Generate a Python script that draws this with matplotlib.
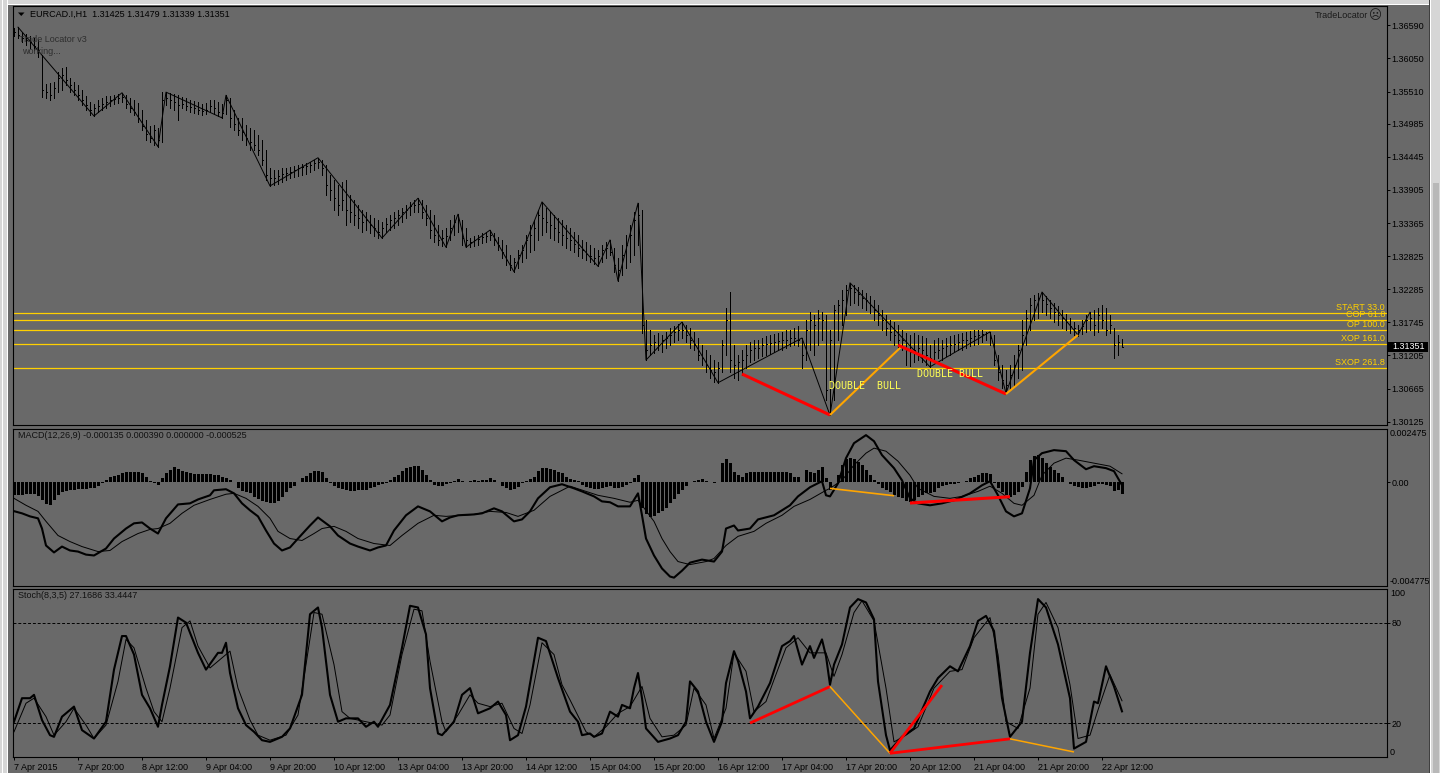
import numpy as np
import matplotlib
matplotlib.use("Agg")
import matplotlib.pyplot as plt
from matplotlib.collections import LineCollection
from matplotlib.patches import Rectangle, Polygon
import matplotlib.transforms as mtrans
from matplotlib.ticker import FormatStrFormatter

plt.rcParams['font.family'] = ['Liberation Sans', 'DejaVu Sans']

# ---------------- data: EURCAD.I H1 bars ----------------
bar_high = [
 1.3655,1.3656,1.3648,1.3645,1.3642,1.3638,1.3635,1.3611,1.3563,1.3565,
 1.3567,1.3583,1.3589,1.3591,1.3573,1.3567,1.3562,1.3554,1.3544,1.3534,
 1.3531,1.3537,1.3540,1.3544,1.3544,1.3545,1.3547,1.3549,1.3545,1.3540,
 1.3537,1.3532,1.3521,1.3505,1.3495,1.3496,1.3492,1.3550,1.3550,1.3549,
 1.3547,1.3545,1.3542,1.3540,1.3537,1.3536,1.3534,1.3531,1.3532,1.3537,
 1.3537,1.3534,1.3531,1.3545,1.3540,1.3521,1.3508,1.3508,1.3496,1.3492,
 1.3488,1.3480,1.3472,1.3456,1.3426,1.3423,1.3423,1.3426,1.3426,1.3428,
 1.3430,1.3431,1.3433,1.3434,1.3436,1.3439,1.3443,1.3439,1.3431,1.3415,
 1.3407,1.3399,1.3404,1.3407,1.3382,1.3374,1.3366,1.3358,1.3355,1.3350,
 1.3345,1.3342,1.3338,1.3345,1.3350,1.3355,1.3358,1.3361,1.3366,1.3371,
 1.3374,1.3377,1.3374,1.3366,1.3358,1.3350,1.3333,1.3325,1.3328,1.3342,
 1.3350,1.3351,1.3342,1.3328,1.3312,1.3315,1.3317,1.3320,1.3322,1.3325,
 1.3320,1.3314,1.3309,1.3301,1.3284,1.3280,1.3293,1.3301,1.3317,1.3333,
 1.3342,1.3358,1.3371,1.3361,1.3355,1.3350,1.3345,1.3342,1.3333,1.3328,
 1.3322,1.3317,1.3309,1.3306,1.3301,1.3296,1.3293,1.3301,1.3306,1.3309,
 1.3296,1.3280,1.3301,1.3317,1.3333,1.3355,1.3369,1.3358,1.3178,1.3162,
 1.3154,1.3157,1.3154,1.3159,1.3165,1.3169,1.3172,1.3175,1.3170,1.3165,
 1.3159,1.3149,1.3138,1.3129,1.3121,1.3113,1.3110,1.3146,1.3198,1.3224,
 1.3138,1.3121,1.3129,1.3138,1.3143,1.3146,1.3146,1.3149,1.3152,1.3154,
 1.3156,1.3157,1.3159,1.3162,1.3162,1.3165,1.3169,1.3149,1.3178,1.3191,
 1.3187,1.3195,1.3191,1.3187,1.3162,1.3203,1.3211,1.3227,1.3235,1.3239,
 1.3235,1.3232,1.3227,1.3222,1.3218,1.3211,1.3203,1.3195,1.3187,1.3178,
 1.3175,1.3170,1.3162,1.3157,1.3154,1.3157,1.3154,1.3152,1.3149,1.3138,
 1.3146,1.3149,1.3146,1.3149,1.3152,1.3154,1.3156,1.3157,1.3159,1.3160,
 1.3162,1.3162,1.3162,1.3159,1.3159,1.3154,1.3121,1.3105,1.3097,1.3105,
 1.3121,1.3138,1.3178,1.3195,1.3214,1.3219,1.3222,1.3224,1.3218,1.3211,
 1.3206,1.3201,1.3195,1.3188,1.3182,1.3175,1.3170,1.3178,1.3187,1.3191,
 1.3195,1.3198,1.3203,1.3198,1.3187,1.3165,1.3154,1.31479]

bar_low = [
 1.3642,1.3638,1.3632,1.3627,1.3622,1.3619,1.3607,1.3542,1.3540,1.3537,
 1.3540,1.3550,1.3554,1.3562,1.3550,1.3545,1.3537,1.3529,1.3521,1.3513,
 1.3511,1.3518,1.3521,1.3524,1.3527,1.3531,1.3532,1.3534,1.3524,1.3518,
 1.3513,1.3501,1.3488,1.3472,1.3469,1.3464,1.3461,1.3469,1.3529,1.3524,
 1.3521,1.3505,1.3524,1.3521,1.3518,1.3516,1.3514,1.3513,1.3514,1.3518,
 1.3514,1.3511,1.3508,1.3514,1.3493,1.3488,1.3480,1.3472,1.3464,1.3456,
 1.3456,1.3447,1.3431,1.3407,1.3397,1.3399,1.3400,1.3404,1.3407,1.3410,
 1.3412,1.3413,1.3415,1.3416,1.3420,1.3423,1.3426,1.3415,1.3382,1.3374,
 1.3358,1.3350,1.3358,1.3333,1.3338,1.3333,1.3328,1.3322,1.3325,1.3320,
 1.3315,1.3312,1.3312,1.3322,1.3325,1.3328,1.3333,1.3338,1.3345,1.3350,
 1.3355,1.3355,1.3345,1.3333,1.3312,1.3306,1.3301,1.3299,1.3297,1.3309,
 1.3317,1.3322,1.3301,1.3297,1.3297,1.3299,1.3301,1.3304,1.3306,1.3309,
 1.3301,1.3293,1.3280,1.3268,1.3260,1.3257,1.3263,1.3273,1.3280,1.3289,
 1.3293,1.3309,1.3317,1.3322,1.3312,1.3309,1.3306,1.3301,1.3296,1.3293,
 1.3289,1.3283,1.3280,1.3276,1.3273,1.3270,1.3266,1.3273,1.3280,1.3284,
 1.3257,1.3242,1.3252,1.3263,1.3273,1.3284,1.3301,1.3157,1.3113,1.3121,
 1.3125,1.3129,1.3126,1.3133,1.3138,1.3143,1.3146,1.3149,1.3143,1.3133,
 1.3129,1.3113,1.3105,1.3094,1.3084,1.3077,1.3076,1.3094,1.3121,1.3094,
 1.3084,1.3081,1.3089,1.3100,1.3110,1.3113,1.3116,1.3120,1.3121,1.3123,
 1.3126,1.3129,1.3129,1.3133,1.3136,1.3138,1.3136,1.3100,1.3113,1.3129,
 1.3121,1.3138,1.3146,1.3048,1.3023,1.3048,1.3146,1.3170,1.3187,1.3203,
 1.3206,1.3203,1.3198,1.3195,1.3190,1.3178,1.3170,1.3162,1.3154,1.3146,
 1.3138,1.3133,1.3129,1.3105,1.3103,1.3110,1.3113,1.3110,1.3105,1.3102,
 1.3110,1.3116,1.3113,1.3120,1.3121,1.3126,1.3129,1.3129,1.3133,1.3136,
 1.3138,1.3139,1.3143,1.3146,1.3138,1.3105,1.3081,1.3068,1.3059,1.3064,
 1.3072,1.3084,1.3097,1.3138,1.3162,1.3178,1.3182,1.3191,1.3187,1.3182,
 1.3175,1.3170,1.3165,1.3162,1.3157,1.3154,1.3152,1.3156,1.3159,1.3162,
 1.3154,1.3159,1.3165,1.3154,1.3157,1.3116,1.3121,1.31339]

bar_close = [
 1.3648,1.3643,1.3638,1.3635,1.3632,1.3625,1.3619,1.3554,1.3550,1.3545,
 1.3557,1.3573,1.3578,1.3570,1.3562,1.3554,1.3545,1.3537,1.3529,1.3521,
 1.3524,1.3527,1.3531,1.3534,1.3537,1.3539,1.3540,1.3542,1.3531,1.3524,
 1.3518,1.3508,1.3495,1.3482,1.3475,1.3488,1.3472,1.3537,1.3540,1.3537,
 1.3534,1.3529,1.3531,1.3527,1.3526,1.3524,1.3521,1.3519,1.3521,1.3527,
 1.3524,1.3518,1.3516,1.3537,1.3508,1.3498,1.3488,1.3485,1.3475,1.3469,
 1.3464,1.3456,1.3439,1.3415,1.3410,1.3410,1.3413,1.3416,1.3418,1.3420,
 1.3423,1.3426,1.3428,1.3430,1.3431,1.3434,1.3436,1.3426,1.3399,1.3390,
 1.3377,1.3366,1.3374,1.3358,1.3355,1.3350,1.3345,1.3338,1.3342,1.3333,
 1.3328,1.3322,1.3328,1.3335,1.3342,1.3345,1.3350,1.3355,1.3358,1.3364,
 1.3366,1.3368,1.3355,1.3345,1.3325,1.3317,1.3309,1.3312,1.3315,1.3328,
 1.3338,1.3342,1.3312,1.3309,1.3306,1.3309,1.3311,1.3314,1.3315,1.3317,
 1.3309,1.3301,1.3289,1.3276,1.3268,1.3273,1.3284,1.3293,1.3309,1.3317,
 1.3328,1.3350,1.3345,1.3338,1.3333,1.3328,1.3322,1.3317,1.3312,1.3309,
 1.3302,1.3296,1.3293,1.3286,1.3283,1.3280,1.3283,1.3293,1.3296,1.3289,
 1.3268,1.3260,1.3284,1.3301,1.3317,1.3342,1.3350,1.3170,1.3129,1.3138,
 1.3143,1.3138,1.3146,1.3149,1.3154,1.3159,1.3162,1.3162,1.3154,1.3146,
 1.3138,1.3121,1.3116,1.3105,1.3097,1.3094,1.3100,1.3138,1.3178,1.3113,
 1.3105,1.3110,1.3113,1.3121,1.3129,1.3133,1.3133,1.3138,1.3139,1.3141,
 1.3143,1.3144,1.3146,1.3146,1.3149,1.3149,1.3146,1.3121,1.3162,1.3178,
 1.3170,1.3182,1.3178,1.3064,1.3146,1.3195,1.3203,1.3211,1.3227,1.3231,
 1.3224,1.3221,1.3214,1.3211,1.3203,1.3195,1.3187,1.3178,1.3165,1.3159,
 1.3154,1.3146,1.3146,1.3129,1.3126,1.3129,1.3133,1.3129,1.3121,1.3116,
 1.3126,1.3129,1.3133,1.3136,1.3138,1.3139,1.3143,1.3146,1.3146,1.3149,
 1.3152,1.3154,1.3156,1.3157,1.3149,1.3113,1.3094,1.3081,1.3072,1.3089,
 1.3105,1.3129,1.3154,1.3182,1.3203,1.3211,1.3214,1.3211,1.3205,1.3198,
 1.3191,1.3187,1.3182,1.3175,1.3169,1.3165,1.3162,1.3169,1.3178,1.3182,
 1.3170,1.3187,1.3178,1.3162,1.3170,1.3138,1.3143,1.31351]

zigzag_idx = [1, 20, 27, 36, 38, 52, 53, 64, 76, 92, 101, 108, 111, 113, 119, 125,
              132, 146, 149, 151, 156, 158, 167, 176, 197, 204, 209, 229, 244, 248,
              257, 266, 269]
zigzag_price = [1.3656, 1.3511, 1.3549, 1.3461, 1.3550, 1.3508, 1.3545, 1.3397,
                1.3443, 1.3312, 1.3377, 1.3297, 1.3351, 1.3297, 1.3325, 1.3257,
                1.3371, 1.3266, 1.3309, 1.3242, 1.3369, 1.3113, 1.3175, 1.3076,
                1.3149, 1.3023, 1.3239, 1.3102, 1.3159, 1.3059, 1.3224, 1.3154,
                1.3191]

level_price = [1.31893, 1.31779, 1.31615, 1.31387, 1.30996]
level_label = ['START 33.0', 'COP 61.8', 'OP 100.0', 'XOP 161.0', 'SXOP 261.8']

price_ticks = [1.36590, 1.36050, 1.35510, 1.34985, 1.34445, 1.33905, 1.33365,
               1.32825, 1.32285, 1.31745, 1.31205, 1.30665, 1.30125]

# harmonic pattern legs: (start bar, start value, end bar, end value, kind)
main_legs = [(182, 1.30903, 204, 1.30234, 'red'),
             (204, 1.30234, 222, 1.31359, 'orange'),
             (221, 1.31375, 248, 1.30577, 'red'),
             (248, 1.30577, 266, 1.31539, 'orange')]
bull_idx = [203.75, 225.75]
bull_price = [1.30707, 1.30903]
bull_text = ['DOUBLE  BULL', 'DOUBLE BULL']

macd_legs = [(204, -0.000282, 220, -0.000619, 'orange'),
             (224, -0.000956, 249, -0.000665, 'red')]
stoch_legs = [(184, 20.2, 204, 41.9, 'red'),
              (204, 41.9, 219, 2.2, 'orange'),
              (219, 2.2, 232, 42.8, 'red'),
              (219, 2.2, 249, 10.8, 'red'),
              (249, 10.8, 265, 3.0, 'orange')]

# ---------------- MACD(12,26,9) ----------------
macd_hist = [
 -0.00058,-0.00058,-0.00057,-0.00056,-0.00055,-0.00056,-0.00062,-0.00082,-0.00102,-0.00105,
 -0.00082,-0.00058,-0.00043,-0.00040,-0.00037,-0.00034,-0.00032,-0.00031,-0.00029,-0.00028,
 -0.00025,-0.00015,-0.00005,0.00011,0.00022,0.00029,0.00034,0.00043,0.00049,0.00049,
 0.00046,0.00046,0.00042,0.00026,0.00006,-0.00005,-0.00012,0.00018,0.00042,0.00057,
 0.00068,0.00062,0.00052,0.00045,0.00042,0.00040,0.00040,0.00039,0.00039,0.00037,
 0.00034,0.00034,0.00026,0.00018,0.00011,0.0,-0.00025,-0.00040,-0.00046,-0.00051,
 -0.00066,-0.00077,-0.00086,-0.00092,-0.00095,-0.00095,-0.00086,-0.00066,-0.00046,-0.00028,
 -0.00015,0.00003,0.00018,0.00031,0.00042,0.00052,0.00054,0.00049,0.00018,-0.00005,
 -0.00015,-0.00025,-0.00031,-0.00035,-0.00040,-0.00040,-0.00037,-0.00037,-0.00034,-0.00028,
 -0.00020,-0.00012,-0.00008,-0.00005,0.00011,0.00022,0.00034,0.00052,0.00065,0.00072,
 0.00077,0.00075,0.00057,0.00034,0.00011,-0.00012,-0.00018,-0.00015,-0.00009,-0.00002,
 0.00006,0.00014,0.00006,0.00003,0.00008,0.00009,0.00008,0.00011,0.00011,0.00018,
 0.00011,0.00003,-0.00015,-0.00028,-0.00035,-0.00032,-0.00020,-0.00005,0.00006,0.00015,
 0.00026,0.00052,0.00065,0.00065,0.00062,0.00057,0.00049,0.00042,0.00026,0.00015,
 0.00011,0.00008,-0.00012,-0.00020,-0.00028,-0.00031,-0.00032,-0.00025,-0.00020,-0.00015,
 -0.00025,-0.00028,-0.00020,-0.00012,-0.00005,0.00018,0.00034,-0.00120,-0.00148,-0.00159,
 -0.00154,-0.00143,-0.00132,-0.00117,-0.00097,-0.00077,-0.00055,-0.00035,-0.00015,0.0,
 0.00006,0.00011,0.00014,0.00006,0.0,-0.00005,0.00003,0.00088,0.00108,0.00088,
 0.00049,0.00034,0.00026,0.00042,0.00049,0.00046,0.00049,0.00049,0.00049,0.00049,
 0.00049,0.00049,0.00049,0.00046,0.00042,0.00026,0.00026,0.00003,0.00057,0.00049,
 0.00042,0.00057,0.00068,0.00018,-0.00035,0.00003,0.00034,0.00080,0.00108,0.00114,
 0.00108,0.00095,0.00080,0.00057,0.00034,0.00011,-0.00009,-0.00025,-0.00035,-0.00046,
 -0.00058,-0.00066,-0.00074,-0.00086,-0.00092,-0.00082,-0.00066,-0.00058,-0.00051,-0.00051,
 -0.00043,-0.00028,-0.00015,-0.00012,-0.00009,-0.00008,-0.00005,0.0,0.00006,0.00018,
 0.00026,0.00034,0.00042,0.00042,0.00037,-0.00005,-0.00028,-0.00046,-0.00058,-0.00066,
 -0.00058,-0.00043,-0.00020,0.00049,0.00103,0.00123,0.00126,0.00111,0.00088,0.00072,
 0.00057,0.00042,0.00022,0.00003,-0.00009,-0.00015,-0.00020,-0.00025,-0.00028,-0.00020,
 -0.00015,-0.00009,-0.00009,-0.00012,-0.00015,-0.00040,-0.00035,-0.000525]

macd_idx = [0,2,4,6,7,8,10,12,14,16,18,20,23,25,28,30,32,34,36,38,41,44,46,49,50,53,55,57,59,61,
            63,65,67,69,71,74,76,79,81,84,86,89,91,93,95,98,101,104,107,109,111,115,117,120,122,
            125,127,129,131,134,137,140,142,145,147,149,151,154,156,157,158,160,162,164,165,167,
            169,172,175,177,178,180,181,184,186,190,194,196,199,202,203,204,206,208,210,213,215,
            217,220,222,224,226,229,232,235,239,242,244,246,248,250,252,254,255,257,260,263,265,
            268,270,273,275,277]
macd_main = [-0.00133,-0.00143,-0.00157,-0.00166,-0.00213,-0.00291,-0.00323,-0.00296,-0.00314,-0.00319,
             -0.00333,-0.00337,-0.00305,-0.00259,-0.00213,-0.00189,-0.00185,-0.00213,-0.00236,-0.00166,
             -0.00102,-0.00097,-0.00079,-0.00060,-0.00037,-0.00032,-0.00051,-0.00097,-0.00129,-0.00157,
             -0.00222,-0.00282,-0.00314,-0.00300,-0.00259,-0.00199,-0.00162,-0.00203,-0.00245,-0.00282,
             -0.00296,-0.00314,-0.00300,-0.00291,-0.00222,-0.00152,-0.00111,-0.00134,-0.00180,-0.00162,
             -0.00152,-0.00148,-0.00143,-0.00120,-0.00134,-0.00180,-0.00171,-0.00134,-0.00074,-0.00023,
             -0.00009,-0.00028,-0.00042,-0.00065,-0.00088,-0.00092,-0.00111,-0.00111,-0.00051,-0.00152,
             -0.00259,-0.00337,-0.00397,-0.00434,-0.00439,-0.00407,-0.00370,-0.00356,-0.00365,-0.00319,
             -0.00213,-0.00199,-0.00222,-0.00213,-0.00171,-0.00152,-0.00106,-0.00065,-0.00023,0.00005,
             -0.00060,-0.00065,-0.00005,0.00111,0.00180,0.00217,0.00189,0.00125,0.00065,0.00009,
             -0.00074,-0.00097,-0.00106,-0.00097,-0.00083,-0.00051,-0.00014,0.00005,-0.00060,-0.00134,
             -0.00157,-0.00143,-0.00028,0.00102,0.00134,0.00148,0.00143,0.00102,0.00060,0.00074,
             0.00065,0.00051,-0.000135]

signal_idx = [0,3,6,8,11,14,17,21,24,27,31,34,36,39,42,45,49,53,55,58,61,64,66,69,72,75,77,80,83,86,
              90,94,97,101,105,108,112,115,119,123,126,130,134,137,139,143,146,150,154,156,157,160,
              162,164,166,169,173,175,178,181,185,188,192,195,199,203,204,207,210,213,215,218,221,
              224,226,230,234,237,241,244,247,250,252,255,257,260,263,266,270,274,277]
macd_signal = [-0.00074,-0.00106,-0.00134,-0.00180,-0.00245,-0.00273,-0.00296,-0.00319,-0.00314,-0.00273,
               -0.00236,-0.00217,-0.00213,-0.00189,-0.00143,-0.00106,-0.00079,-0.00055,-0.00051,-0.00074,
               -0.00111,-0.00166,-0.00226,-0.00259,-0.00268,-0.00236,-0.00213,-0.00203,-0.00226,-0.00259,
               -0.00282,-0.00291,-0.00245,-0.00189,-0.00152,-0.00157,-0.00152,-0.00148,-0.00134,-0.00139,
               -0.00157,-0.00129,-0.00065,-0.00037,-0.00018,-0.00042,-0.00060,-0.00074,-0.00092,-0.00083,
               -0.00106,-0.00180,-0.00259,-0.00319,-0.00365,-0.00379,-0.00365,-0.00351,-0.00291,-0.00249,
               -0.00226,-0.00189,-0.00152,-0.00111,-0.00079,-0.00037,-0.00028,0.00009,0.00079,0.00134,
               0.00157,0.00143,0.00097,0.00032,-0.00028,-0.00065,-0.00074,-0.00065,-0.00042,-0.00018,
               -0.00051,-0.00097,-0.00106,-0.00060,0.00032,0.00088,0.00111,0.00102,0.00088,0.00074,
               0.00039]

# ---------------- Stoch(8,3,5) ----------------
stoch_k_idx = [0,2,4,5,7,9,10,12,15,17,20,23,25,27,28,30,32,34,36,37,39,41,43,46,48,51,52,53,54,56,
               58,60,62,64,67,69,72,74,76,77,79,81,83,86,88,90,91,94,97,99,101,103,104,106,107,110,
               112,114,116,119,121,123,124,126,128,131,133,136,139,141,142,144,145,147,149,151,152,
               154,155,156,157,158,161,164,166,168,169,171,173,175,177,178,180,181,183,184,186,189,
               192,194,195,197,199,200,202,203,204,205,207,209,211,213,215,216,218,219,222,225,229,
               231,234,236,239,241,243,245,247,249,252,254,256,258,261,264,265,268,270,271,273,275,277]
stoch_k = [21,35,35,37,22,13,12,24,30,16,11,21,52,72,72,61,37,29,18,31,
           54,83,80,62,52,62,62,68,50,29,19,15,10,9,12,17,37,85,89,77,
           37,21,23,23,18,21,18,31,65,90,89,73,41,14,13,21,37,41,26,29,
           33,25,10,13,30,71,69,47,27,21,13,14,12,14,27,24,31,29,41,50,
           35,17,9,11,13,21,45,39,21,9,21,44,63,57,39,23,30,44,66,69,
           72,55,66,59,70,60,43,55,67,89,94,92,82,45,13,4,12,17,39,47,
           54,51,66,81,84,75,35,12,21,62,94,89,67,35,5,9,33,32,54,42,27.1686]

stoch_d_idx = [0,3,5,8,10,13,15,18,20,23,26,28,30,33,35,37,39,42,44,46,49,52,54,56,59,61,64,68,71,73,
               75,77,80,82,84,88,92,94,97,100,102,104,107,108,111,114,116,119,122,125,127,129,132,
               135,137,139,143,145,148,151,154,157,159,162,165,168,170,173,175,178,180,183,185,188,
               190,193,196,199,203,205,207,210,212,215,218,220,223,226,230,234,237,240,244,246,248,
               251,254,256,258,261,264,266,269,271,274,277]
stoch_d = [15,32,35,24,13,21,29,19,11,19,45,70,65,41,27,21,41,77,81,66,
           53,59,63,41,22,13,10,13,25,55,86,85,55,27,23,21,19,25,61,88,
           87,57,21,15,25,37,32,30,32,17,14,31,68,61,43,34,15,12,18,26,
           30,42,23,12,13,19,41,31,11,29,62,51,27,33,46,65,71,62,62,48,
           61,86,93,81,41,9,13,18,41,51,52,71,83,61,21,17,41,85,92,77,
           43,11,13,28,49,33.4447]

time_tick_idx = [0, 16, 32, 48, 64, 80, 96, 112, 128, 144, 160, 176, 192, 208, 224, 240, 256, 272]
time_tick_label = ['7 Apr 2015', '7 Apr 20:00', '8 Apr 12:00', '9 Apr 04:00', '9 Apr 20:00',
                   '10 Apr 12:00', '13 Apr 04:00', '13 Apr 20:00', '14 Apr 12:00', '15 Apr 04:00',
                   '15 Apr 20:00', '16 Apr 12:00', '17 Apr 04:00', '17 Apr 20:00', '20 Apr 12:00',
                   '21 Apr 04:00', '21 Apr 20:00', '22 Apr 12:00']

header_ohlc = [1.31425, 1.31479, 1.31339, 1.31351]

# ---------------- styling ----------------
W, H = 1440, 773
BG = '#696969'
FS = 6.5
GOLD = '#FFD000'
LEG_COLORS = {'red': '#FF0000', 'orange': '#FFA500'}

fig = plt.figure(figsize=(W / 100, H / 100), dpi=100)
fig.patch.set_facecolor(BG)


def add_ax(left, top, right, bottom):
    return fig.add_axes([left / W, 1 - bottom / H, (right - left) / W, (bottom - top) / H])


AX_L, AX_R = 12.5, 1386.5
AXW = AX_R - AX_L
ax_main = add_ax(AX_L, 6, AX_R, 425)
ax_macd = add_ax(AX_L, 428.5, AX_R, 586)
ax_sto = add_ax(AX_L, 589, AX_R, 757)

xlim = ((AX_L - 14) / 4.0, (AX_R - 14) / 4.0)
for ax in (ax_main, ax_macd, ax_sto):
    ax.set_facecolor(BG)
    ax.set_xlim(*xlim)
    for sp in ax.spines.values():
        sp.set_color('black')
        sp.set_linewidth(0.8)
    ax.yaxis.tick_right()
    ax.tick_params(axis='y', direction='out', length=2.2, width=0.7, pad=1.6,
                   labelsize=FS, colors='black')
    ax.tick_params(axis='x', bottom=False, labelbottom=False)

# ---- main price panel ----
main_ylim = (1.30071, 1.36905)
ax_main.set_ylim(*main_ylim)
pp = (main_ylim[1] - main_ylim[0]) / (425 - 6)  # price per pixel
ax_main.set_yticks(price_ticks)
ax_main.yaxis.set_major_formatter(FormatStrFormatter('%.5f'))

idx = np.arange(len(bar_high))
segs = [[(i, lo), (i, hi)] for i, hi, lo in zip(idx, bar_high, bar_low)]
segs += [[(i, c), (i + 0.3, c)] for i, c in zip(idx, bar_close)]
ax_main.add_collection(LineCollection(segs, colors='black', linewidths=0.5,
                                      antialiaseds=False, zorder=3))
ax_main.plot(zigzag_idx, zigzag_price, color='black', lw=0.7, zorder=3)

trans_main = mtrans.blended_transform_factory(ax_main.transAxes, ax_main.transData)
for lv, lab in zip(level_price, level_label):
    ax_main.axhline(lv, color=GOLD, lw=0.9, zorder=2)
    ax_main.text(1 - 1.5 / AXW, lv + 1.0 * pp, lab, transform=trans_main, ha='right',
                 va='bottom', color=GOLD, fontsize=FS, zorder=4)

for i0, v0, i1, v1, kind in main_legs:
    ax_main.plot([i0, i1], [v0, v1], color=LEG_COLORS[kind],
                 lw=2.2 if kind == 'red' else 1.5, solid_capstyle='butt', zorder=4)
for bi, bp, bt in zip(bull_idx, bull_price, bull_text):
    ax_main.text(bi, bp, bt, ha='left', va='center', color='#FFFF55', fontsize=7.2,
                 family='DejaVu Sans Mono', zorder=5)

last_close = bar_close[-1]
ax_main.add_patch(Rectangle((1 + 1.5 / AXW, last_close - 5 * pp), 40 / AXW, 10 * pp,
                            transform=trans_main, facecolor='black', edgecolor='none',
                            clip_on=False, zorder=6))
ax_main.text(1 + 5.5 / AXW, last_close, '%.5f' % last_close, transform=trans_main,
             color='white', fontsize=FS, ha='left', va='center', clip_on=False, zorder=7)

# ---- MACD panel ----
macd_ylim = (-0.004775, 0.002475)
ax_macd.set_ylim(*macd_ylim)
# bars 3 px wide, aligned to the pixel grid (1 px gap between bars)
ax_macd.bar(np.arange(len(macd_hist)) + 0.125, macd_hist, width=0.75, color='black',
            linewidth=0, antialiased=False, zorder=2)
ax_macd.plot(macd_idx, macd_main, color='black', lw=1.5, zorder=3)
ax_macd.plot(signal_idx, macd_signal, color='black', lw=0.7, zorder=3)
for i0, v0, i1, v1, kind in macd_legs:
    ax_macd.plot([i0, i1], [v0, v1], color=LEG_COLORS[kind],
                 lw=2.2 if kind == 'red' else 1.2, solid_capstyle='butt', zorder=4)
ax_macd.set_yticks([0.0])
ax_macd.set_yticklabels(['0.00'])
trans_macd = mtrans.blended_transform_factory(ax_macd.transAxes, ax_macd.transData)
ax_macd.text(1 + 3.5 / AXW, macd_ylim[1], '%.6f' % macd_ylim[1], transform=trans_macd,
             ha='left', va='top', fontsize=FS, clip_on=False)
ax_macd.text(1 + 3.5 / AXW, macd_ylim[0], '%.6f' % macd_ylim[0], transform=trans_macd,
             ha='left', va='bottom', fontsize=FS, clip_on=False)

# ---- Stochastic panel ----
ax_sto.set_ylim(0, 100)
for lvl in (80, 20):
    ax_sto.axhline(lvl, color='black', lw=0.7, ls=(0, (3, 2)), zorder=1)
ax_sto.plot(stoch_k_idx, stoch_k, color='black', lw=1.5, zorder=3)
ax_sto.plot(stoch_d_idx, stoch_d, color='black', lw=0.7, zorder=3)
for i0, v0, i1, v1, kind in stoch_legs:
    ax_sto.plot([i0, i1], [v0, v1], color=LEG_COLORS[kind],
                lw=2.0 if kind == 'red' else 1.1, solid_capstyle='butt', zorder=4)
ax_sto.set_yticks([20, 80])
ax_sto.set_yticklabels(['20', '80'])
trans_sto = mtrans.blended_transform_factory(ax_sto.transAxes, ax_sto.transData)
ax_sto.text(1 + 3.5 / AXW, 100, '100', transform=trans_sto, ha='left', va='top',
            fontsize=FS, clip_on=False)
ax_sto.text(1 + 3.5 / AXW, 0, '0', transform=trans_sto, ha='left', va='bottom',
            fontsize=FS, clip_on=False)

ax_sto.tick_params(axis='x', bottom=True, labelbottom=True, direction='out', length=2.5,
                   width=0.7, pad=1.5, labelsize=FS, colors='black')
ax_sto.set_xticks(time_tick_idx)
ax_sto.set_xticklabels(time_tick_label, ha='left')

# ---- headers and captions ----
def ftext(x, y, s, **kw):
    kw.setdefault('fontsize', FS)
    kw.setdefault('color', 'black')
    kw.setdefault('va', 'center')
    return fig.text(x / W, 1 - y / H, s, **kw)


fig.add_artist(Polygon([(18 / W, 1 - 12.5 / H), (24.5 / W, 1 - 12.5 / H), (21.25 / W, 1 - 16 / H)],
                       closed=True, transform=fig.transFigure, facecolor='black',
                       edgecolor='none', zorder=10))
ftext(30, 14, 'EURCAD.I,H1  ' + ' '.join('%.5f' % v for v in header_ohlc))
ftext(19, 40, 'Trade Locator v3', color='#2e2e2e')
ftext(22, 52, 'working...', color='#2e2e2e')
ftext(1368, 16, 'TradeLocator', ha='right', color='#1a1a1a')
ftext(1375.5, 16, '\u2639', ha='center', fontsize=9, color='#1a1a1a')
ftext(18, 436, 'MACD(12,26,9) -0.000135 0.000390 0.000000 -0.000525', color='#111111')
ftext(18, 596, 'Stoch(8,3,5) %.4f %.4f' % (stoch_k[-1], stoch_d[-1]), color='#111111')

# ---- window chrome ----
def frect(x0, y0, x1, y1, color, z=0.5):
    fig.add_artist(Rectangle((x0 / W, 1 - y1 / H), (x1 - x0) / W, (y1 - y0) / H,
                             transform=fig.transFigure, facecolor=color, edgecolor='none',
                             zorder=z))

frect(0, 0, W, 4, '#D6D6D6')
frect(0, 4, W, 5, '#FFFFFF')
frect(0, 0, 7, H, '#D6D6D6')
frect(2, 0, 3, H, '#FFFFFF')
frect(7, 0, 8, H, '#FFFFFF')
frect(1430, 0, W, H, '#D6D6D6')
frect(1429, 0, 1430, H, '#404040')
frect(1430, 0, 1431, H, '#FFFFFF')
frect(1433, 183, 1439, H, '#B8B8B8')

fig.savefig('out.png', dpi=100, facecolor=fig.get_facecolor())
